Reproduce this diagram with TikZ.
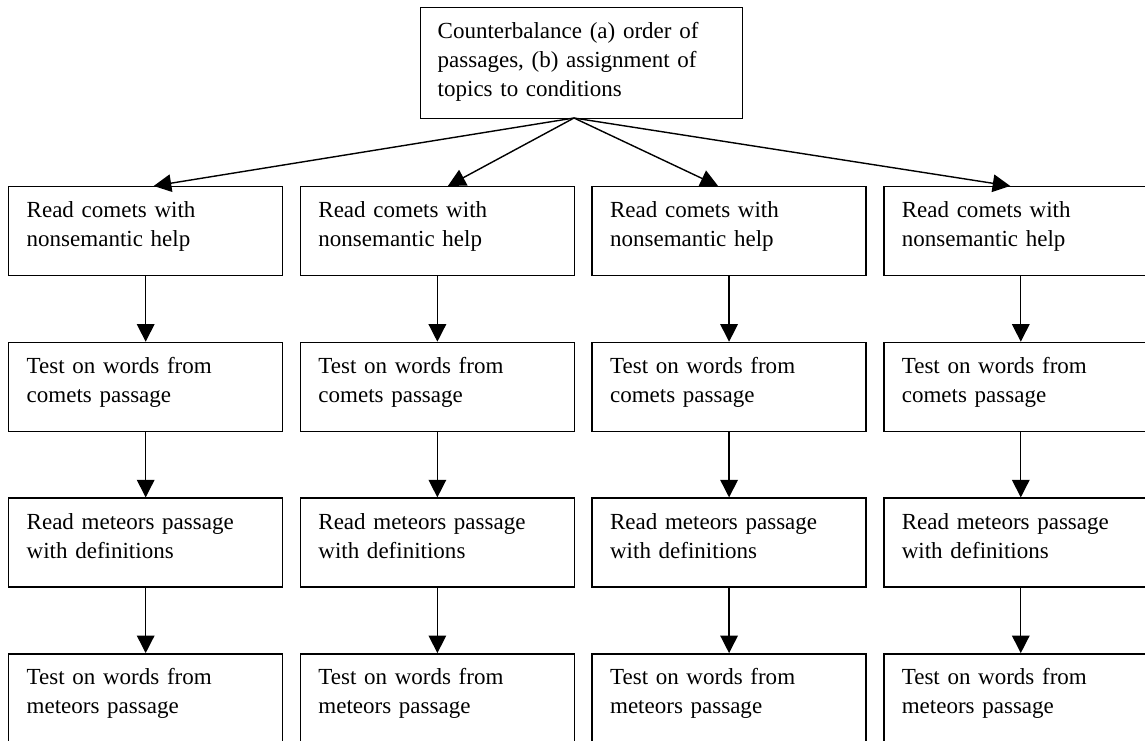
\documentclass[tikz,border=0pt]{standalone}
\usepackage{fontspec}
\setmainfont{Liberation Serif}
\usetikzlibrary{arrows.meta}
\usetikzlibrary{math}

\tikzset{
  stepbox/.style={draw, line width=0.8pt, anchor=north west, align=left,
    text width=4.76cm, inner xsep=0.36cm, inner ysep=0pt,
    text height=0.62cm, text depth=1.16cm,
    font=\fontsize{13.1}{16.5}\selectfont},
  topbox/.style={stepbox, text width=5.76cm, inner xsep=0.34cm, text depth=1.6cm},
  flow/.style={-{Triangle[length=10pt,width=10pt]}, line width=0.8pt}
}

\begin{document}
\begin{tikzpicture}[x=0.02cm,y=-0.02cm]
\tikzmath{
\xo=8;
\yo=186;
\dx=291.7;
\dy=155.7;
}
\clip (0,0) rectangle (1145,740);
%top
\node[topbox] (cb) at (420,7) {Counterbalance (a) order of\\passages, (b) assignment of\\topics to conditions};
\coordinate (fork) at (574,118);

%row 1
\node[stepbox] (r1c1) at (\xo,\yo) {Read comets with\\nonsemantic help};
\node[stepbox] (r1c2) at (\xo+\dx,\yo) {Read comets with\\nonsemantic help};
\node[stepbox] (r1c3) at (\xo+2*\dx,\yo) {Read comets with\\nonsemantic help};
\node[stepbox] (r1c4) at (\xo+3*\dx,\yo) {Read comets with\\nonsemantic help};
%row 2
\node[stepbox] (r2c1) at (\xo,\yo+\dy) {Test on words from\\comets passage};
\node[stepbox] (r2c2) at (\xo+\dx,\yo+\dy) {Test on words from\\comets passage};
\node[stepbox] (r2c3) at (\xo+2*\dx,\yo+\dy) {Test on words from\\comets passage};
\node[stepbox] (r2c4) at (\xo+3*\dx,\yo+\dy) {Test on words from\\comets passage};
%row 3
\node[stepbox] (r3c1) at (\xo,\yo+2*\dy) {Read meteors passage\\with definitions};
\node[stepbox] (r3c2) at (\xo+\dx,\yo+2*\dy) {Read meteors passage\\with definitions};
\node[stepbox] (r3c3) at (\xo+2*\dx,\yo+2*\dy) {Read meteors passage\\with definitions};
\node[stepbox] (r3c4) at (\xo+3*\dx,\yo+2*\dy) {Read meteors passage\\with definitions};
%row 4
\node[stepbox] (r4c1) at (\xo,\yo+3*\dy) {Test on words from\\meteors passage};
\node[stepbox] (r4c2) at (\xo+\dx,\yo+3*\dy) {Test on words from\\meteors passage};
\node[stepbox] (r4c3) at (\xo+2*\dx,\yo+3*\dy) {Test on words from\\meteors passage};
\node[stepbox] (r4c4) at (\xo+3*\dx,\yo+3*\dy) {Test on words from\\meteors passage};

%fan out
\draw[flow] (fork) -- ([xshift=0.16cm]r1c1.north);
\draw[flow] (fork) -- ([xshift=0.21cm]r1c2.north);
\draw[flow] (fork) -- ([xshift=-0.22cm]r1c3.north);
\draw[flow] (fork) -- ([xshift=-0.21cm]r1c4.north);

%columns
\draw[flow] (r1c1) -- (r2c1);
\draw[flow] (r2c1) -- (r3c1);
\draw[flow] (r3c1) -- (r4c1);
\draw[flow] (r1c2) -- (r2c2);
\draw[flow] (r2c2) -- (r3c2);
\draw[flow] (r3c2) -- (r4c2);
\draw[flow] (r1c3) -- (r2c3);
\draw[flow] (r2c3) -- (r3c3);
\draw[flow] (r3c3) -- (r4c3);
\draw[flow] (r1c4) -- (r2c4);
\draw[flow] (r2c4) -- (r3c4);
\draw[flow] (r3c4) -- (r4c4);
\end{tikzpicture}
\end{document}
